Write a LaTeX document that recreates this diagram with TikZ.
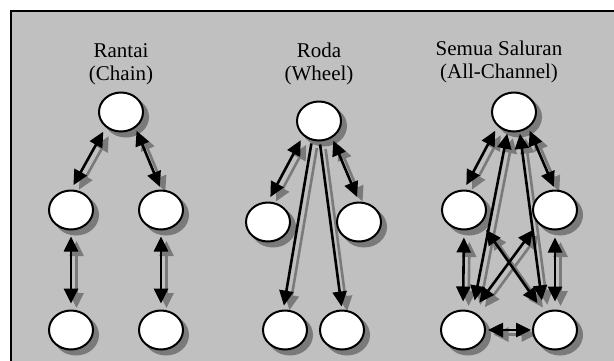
\documentclass[tikz,border=0pt]{standalone}
\usepackage{fontspec}
\setmainfont{Liberation Serif}
\usetikzlibrary{arrows.meta,shapes.geometric}
\definecolor{panelgray}{HTML}{C0C0C0}
\definecolor{shadowgray}{HTML}{7A7A7A}
\pgfdeclarelayer{panel}
\pgfdeclarelayer{shade}
\pgfsetlayers{panel,shade,main}
\tikzset{
  member/.style={ellipse, draw=black, line width=2pt, fill=white,
    minimum width=44pt, minimum height=39pt, inner sep=0pt},
  membershadow/.style={ellipse, fill=shadowgray, draw=shadowgray,
    line width=2pt, minimum width=44pt, minimum height=39pt, inner sep=0pt},
  caption/.style={anchor=north, align=center, inner sep=0pt,
    font=\fontsize{21}{23}\selectfont},
  link/.style={draw=black, line width=2.6pt,
    >={Triangle[length=15pt,width=14pt]}},
  twoway/.style={link, <->},
  oneway/.style={link, ->},
}
% a member ellipse at (#2,#3) with its grey drop shadow
\newcommand\memberat[3]{%
  \begin{pgfonlayer}{shade}
    \node[membershadow] (#1-shadow) at (#2+5,#3+5) {};
  \end{pgfonlayer}
  \node[member] (#1) at (#2,#3) {};
}
% a connector with its grey drop shadow underneath
\newcommand\shadowlink[3]{%
  \begin{pgfonlayer}{shade}
    \draw[#1, draw=shadowgray, transform canvas={shift={(5.5pt,-4.5pt)}}] #2 -- #3;
  \end{pgfonlayer}
  \draw[#1] #2 -- #3;
}
\begin{document}
\begin{tikzpicture}[x=1pt, y=-1pt]
\useasboundingbox (0,0) rectangle (614,360);
\begin{pgfonlayer}{panel}
  \fill[white] (0,0) rectangle (614,360);
  \draw[fill=panelgray, line width=2pt] (11,11) rectangle (640,390);
\end{pgfonlayer}

% captions
\node[caption] (tchain) at (121,43) {Rantai\\(Chain)};
\node[caption] (twheel) at (319,43) {Roda\\(Wheel)};
\node[caption] (tall)   at (499,41) {Semua Saluran\\(All-Channel)};

% chain members
\memberat{c0}{121}{112}
\memberat{c1}{71}{210}
\memberat{c2}{161}{210}
\memberat{c3}{71}{330}
\memberat{c4}{161}{330}

% wheel members
\memberat{w0}{319}{121}
\memberat{w1}{268}{222}
\memberat{w2}{359}{222}
\memberat{w3}{285}{330}
\memberat{w4}{342}{330}

% all-channel members
\memberat{a0}{514}{112}
\memberat{a1}{464}{210}
\memberat{a2}{555}{210}
\memberat{a3}{463}{330}
\memberat{a4}{555}{330}

% chain links
\shadowlink{twoway, shorten <=5pt, shorten >=5pt}{(c0.225)}{(c1.north)}
\shadowlink{twoway, shorten <=3pt, shorten >=3pt}{(c0.312)}{(c2.north)}
\shadowlink{twoway, shorten <=6pt, shorten >=6pt}{(c1.south)}{(c3.north)}
\shadowlink{twoway, shorten <=6pt, shorten >=6pt}{(c2.south)}{(c4.north)}

% wheel links
\shadowlink{twoway, shorten <=5pt, shorten >=5pt}{(w0.223)}{(w1.north)}
\shadowlink{twoway, shorten <=3pt, shorten >=5pt}{(w0.308)}{(w2.north)}
\shadowlink{oneway, shorten <=3pt, shorten >=4pt}{(w0.250)}{(w3.95)}
\shadowlink{oneway, shorten <=3pt, shorten >=3pt}{(w0.272)}{(w4.north)}

% all-channel links
\shadowlink{twoway, shorten <=5pt, shorten >=5pt}{(a0.221)}{(a1.north)}
\shadowlink{twoway, shorten <=3pt, shorten >=3pt}{(a0.312)}{(a2.north)}
\shadowlink{twoway, shorten <=7pt, shorten >=8pt}{(a1.south)}{(a3.north)}
\shadowlink{twoway, shorten <=7pt, shorten >=8pt}{(a2.south)}{(a4.north)}
\shadowlink{twoway, shorten <=11pt, shorten >=2pt}{(a3.63)}{(a0.252)}
\shadowlink{twoway, shorten <=12pt, shorten >=2pt}{(a4.123)}{(a0.286)}
\shadowlink{twoway, shorten <=8pt, shorten >=11pt}{(a1.323)}{(a4.122)}
\shadowlink{twoway, shorten <=8pt, shorten >=11pt}{(a2.218)}{(a3.62)}
\shadowlink{twoway, shorten <=2pt, shorten >=1pt}{(a3.east)}{(a4.west)}
\end{tikzpicture}
\end{document}
